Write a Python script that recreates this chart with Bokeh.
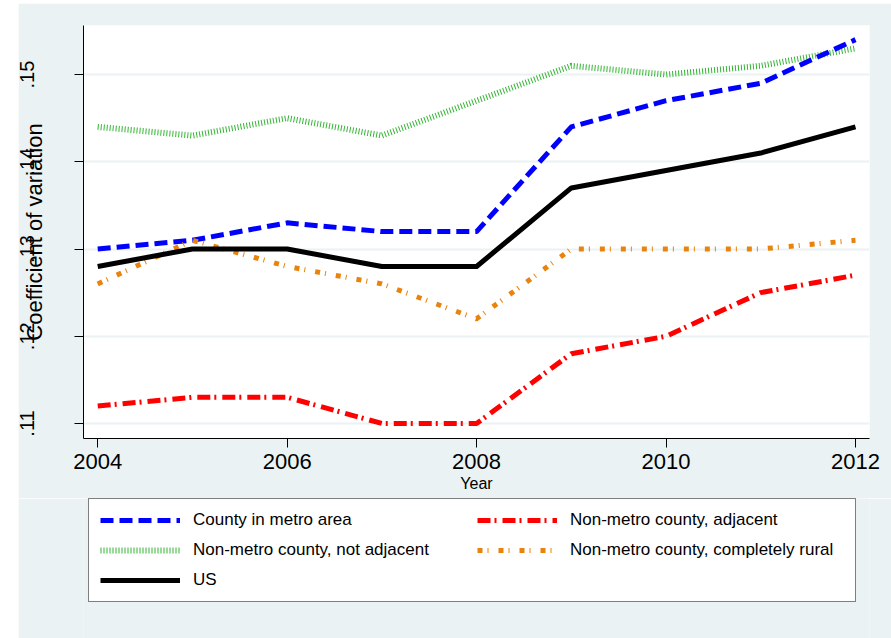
from bokeh.plotting import figure
from bokeh.models import Range1d, FixedTicker, Legend, LegendItem
from bokeh.layouts import column
from bokeh.embed import file_html
from bokeh.resources import INLINE

# ---- data ----
years = [2004, 2005, 2006, 2007, 2008, 2009, 2010, 2011, 2012]
metro = [0.130, 0.131, 0.133, 0.132, 0.132, 0.144, 0.147, 0.149, 0.154]
adjacent = [0.112, 0.113, 0.113, 0.110, 0.110, 0.118, 0.120, 0.125, 0.127]
not_adjacent = [0.144, 0.143, 0.145, 0.143, 0.147, 0.151, 0.150, 0.151, 0.153]
rural = [0.126, 0.131, 0.128, 0.126, 0.122, 0.130, 0.130, 0.130, 0.131]
us = [0.128, 0.130, 0.130, 0.128, 0.128, 0.137, 0.139, 0.141, 0.144]

x_ticks = [2004, 2006, 2008, 2010, 2012]
y_ticks = [0.11, 0.12, 0.13, 0.14, 0.15]
y_tick_labels = [".11", ".12", ".13", ".14", ".15"]

series_names = ["County in metro area", "Non-metro county, adjacent",
                "Non-metro county, not adjacent", "Non-metro county, completely rural", "US"]

BG = "#EAF2F3"
FONT = "Liberation Sans"

styles = {
    "County in metro area": dict(line_color="#0000ff", line_width=5, line_dash="13 6",
                                 line_cap="butt", line_join="round"),
    "Non-metro county, adjacent": dict(line_color="#ff0000", line_width=5, line_dash="13 4 2 6",
                                       line_cap="butt", line_join="round"),
    "Non-metro county, not adjacent": dict(line_color="#33b533", line_width=6, line_dash="1 2",
                                           line_cap="butt"),
    "Non-metro county, completely rural": dict(line_color="#e8840e", line_width=5,
                                               line_dash="5 5 1 10", line_cap="butt",
                                               line_join="round"),
    "US": dict(line_color="black", line_width=5, line_join="round"),
}
values = dict(zip(series_names, [metro, adjacent, not_adjacent, rural, us]))

# ---------------- main plot ----------------
p = figure(width=873, height=495,
           x_range=Range1d(2003.85, 2012.148), y_range=Range1d(0.10828, 0.15562),
           output_backend="svg", toolbar_location=None,
           min_border_left=64, min_border_right=22, min_border_top=22, min_border_bottom=60,
           background_fill_color="white", border_fill_color=BG, outline_line_color=None)
p.margin = (3, 0, 0, 18)

p.xgrid.visible = False
p.ygrid.ticker = FixedTicker(ticks=y_ticks)
p.ygrid.grid_line_color = BG
p.ygrid.grid_line_width = 2

for ax in (p.xaxis[0], p.yaxis[0]):
    ax.axis_line_color = "black"
    ax.axis_line_width = 1
    ax.major_tick_line_color = "black"
    ax.major_tick_out = 9
    ax.major_tick_in = 0
    ax.minor_tick_line_color = None
    ax.major_label_text_font = FONT
    ax.major_label_text_color = "black"
    ax.axis_label_text_font = FONT
    ax.axis_label_text_font_style = "normal"
    ax.axis_label_text_color = "black"

p.xaxis.ticker = FixedTicker(ticks=x_ticks)
p.xaxis.major_label_text_font_size = "22px"
p.xaxis.major_label_standoff = 6
p.xaxis.axis_label = "Year"
p.xaxis.axis_label_text_font_size = "16px"
p.xaxis.axis_label_standoff = 3

p.yaxis.ticker = FixedTicker(ticks=y_ticks)
p.yaxis.major_label_overrides = dict(zip(y_ticks, y_tick_labels))
p.yaxis.major_label_orientation = "vertical"
p.yaxis.major_label_text_font_size = "20px"
p.yaxis.major_label_standoff = 40
p.yaxis.axis_label = "Coefficient of variation"
p.yaxis.axis_label_text_font_size = "22px"
p.yaxis.axis_label_standoff = -29

draw_order = ["Non-metro county, not adjacent", "County in metro area",
              "Non-metro county, adjacent", "Non-metro county, completely rural", "US"]
for name in draw_order:
    p.line(years, values[name], **styles[name])

# ---------------- legend panel ----------------
# same series drawn in an off-range view so only their legend keys show
p2 = figure(width=873, height=140, x_range=Range1d(0, 1), y_range=Range1d(0, 1),
            output_backend="svg", toolbar_location=None,
            x_axis_type=None, y_axis_type=None, min_border=0,
            background_fill_color=BG, border_fill_color=BG, outline_line_color=None)
p2.margin = (0, 0, 0, 18)
p2.grid.visible = False

legend_order = ["County in metro area", "Non-metro county, not adjacent", "US",
                "Non-metro county, adjacent", "Non-metro county, completely rural"]
items = []
for name in legend_order:
    r = p2.line(years, values[name], **styles[name])
    items.append(LegendItem(label=name, renderers=[r]))

legend = Legend(items=items, location=(5, 36), ncols=2, orientation="vertical",
                glyph_width=80, glyph_height=20, label_standoff=13,
                padding=11, spacing=10, label_width=274, margin=0,
                label_text_font=FONT, label_text_font_size="17px",
                label_text_color="black",
                border_line_color="black", border_line_width=1,
                background_fill_color="white", background_fill_alpha=1)
p2.add_layout(legend)

layout = column(p, p2, spacing=0)
open("out.html", "w").write(file_html(layout, INLINE))
